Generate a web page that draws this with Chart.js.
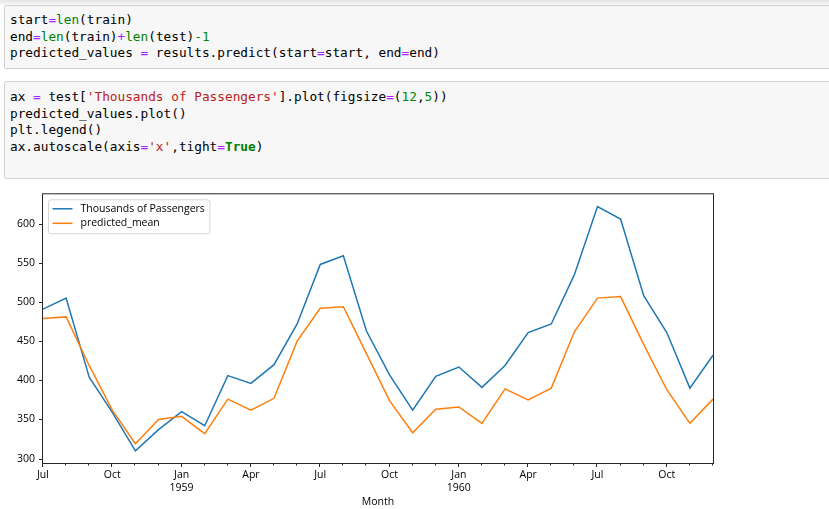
<!DOCTYPE html>
<html>
<head>
<meta charset="utf-8">
<script src="https://cdn.jsdelivr.net/npm/chart.js@4.4.1/dist/chart.umd.min.js"></script>
<style>
  html, body { margin: 0; padding: 0; background: #fff; width: 829px; height: 509px; overflow: hidden; position: relative; }
  .shade { position: absolute; left: 0; top: 0; width: 829px; height: 5px; background: linear-gradient(#e4e4e4, #f9f9f9); }
  .cell { position: absolute; left: 4px; width: 840px; box-sizing: border-box; background: #f7f7f7; border: 1px solid #cfcfcf; border-radius: 2px;
          font-family: "DejaVu Sans Mono", monospace; font-size: 12.75px; line-height: 16.6px; color: #000; white-space: pre; padding-left: 5px; }
  .o { color: #AA22FF; }
  .b { color: #008000; }
  .n { color: #008800; }
  .s { color: #BA2121; }
  .k { color: #008000; font-weight: bold; }
  #wrap { position: absolute; left: 0; top: 180px; width: 829px; height: 329px; }
</style>
</head>
<body>
<div class="shade"></div>
<div class="cell" style="top:5px;height:64px;padding-top:6px;">start<span class="o">=</span><span class="b">len</span>(train)
end<span class="o">=</span><span class="b">len</span>(train)<span class="o">+</span><span class="b">len</span>(test)<span class="n">-1</span>
predicted_values <span class="o">=</span> results.predict(start<span class="o">=</span>start, end<span class="o">=</span>end)</div>
<div class="cell" style="top:81px;height:98px;padding-top:7px;">ax <span class="o">=</span> test[<span class="s">'Thousands of Passengers'</span>].plot(figsize<span class="o">=</span>(<span class="n">12</span>,<span class="n">5</span>))
predicted_values.plot()
plt.legend()
ax.autoscale(axis<span class="o">=</span><span class="s">'x'</span>,tight<span class="o">=</span><span class="k">True</span>)</div>
<div id="wrap"><canvas id="passengerChart" width="829" height="329"></canvas></div>
<script>
'use strict'
var months = ['1958-07', '1958-08', '1958-09', '1958-10', '1958-11', '1958-12',
    '1959-01', '1959-02', '1959-03', '1959-04', '1959-05', '1959-06',
    '1959-07', '1959-08', '1959-09', '1959-10', '1959-11', '1959-12',
    '1960-01', '1960-02', '1960-03', '1960-04', '1960-05', '1960-06',
    '1960-07', '1960-08', '1960-09', '1960-10', '1960-11', '1960-12'];
var passengers = [491, 505, 404, 359, 310, 337, 360, 342, 406, 396, 420, 472,
    548, 559, 463, 407, 362, 405, 417, 391, 419, 461, 472, 535,
    622, 606, 508, 461, 390, 432];
var predictedMean = [479, 481, 419, 362, 319, 350, 354, 332, 376, 362, 377, 450,
    492, 494, 434, 374, 333, 363, 366, 345, 389, 375, 390, 462,
    505, 507, 446, 388, 345, 376];
var seriesNames = ['Thousands of Passengers', 'predicted_mean'];
var monthNames = ['Jan', 'Feb', 'Mar', 'Apr', 'May', 'Jun', 'Jul', 'Aug', 'Sep', 'Oct', 'Nov', 'Dec'];
var yTicks = [300, 350, 400, 450, 500, 550, 600];
var yMin = 294.4, yMax = 637.6;

var mplFont = { family: '"Open Sans", "DejaVu Sans", sans-serif', size: 10.5 };

/* matplotlib style frame, tick marks and legend box */
var mplFrame = {
    id: 'mplFrame',
    afterDatasetsDraw: function (chart) {
        var ctx = chart.ctx;
        var area = chart.chartArea;
        var xs = chart.scales.x, ys = chart.scales.y;
        ctx.save();
        ctx.strokeStyle = '#262626';
        ctx.lineWidth = 1;
        ctx.strokeRect(area.left - 0.5, area.top - 0.5, area.right - area.left + 1, area.bottom - area.top + 1);

        ctx.beginPath();
        months.forEach(function (m, i) {
            var px = Math.round(xs.getPixelForValue(i)) - 0.5;
            var major = (parseInt(m.split('-')[1], 10) - 1) % 3 === 0;
            ctx.moveTo(px, area.bottom);
            ctx.lineTo(px, area.bottom + (major ? 4 : 2.5));
        });
        ys.ticks.forEach(function (t) {
            var py = Math.round(ys.getPixelForValue(t.value)) + 0.5;
            ctx.moveTo(area.left - 4, py);
            ctx.lineTo(area.left, py);
        });
        ctx.stroke();

        // legend
        ctx.font = mplFont.size + 'px ' + mplFont.family;
        var tw = 0;
        chart.data.datasets.forEach(function (ds) {
            tw = Math.max(tw, ctx.measureText(ds.label).width);
        });
        var bx = area.left + 5.5, by = area.top + 5.5;
        var bw = 4 + 20 + 8 + tw + 5, bh = 34;
        ctx.beginPath();
        ctx.roundRect(bx, by, bw, bh, 2.5);
        ctx.fillStyle = 'rgba(255,255,255,0.8)';
        ctx.fill();
        ctx.strokeStyle = 'rgba(204,204,204,0.8)';
        ctx.stroke();
        chart.data.datasets.forEach(function (ds, i) {
            var cy = by + 9 + i * 14.5;
            ctx.beginPath();
            ctx.strokeStyle = ds.borderColor;
            ctx.lineWidth = 1.5;
            ctx.moveTo(bx + 4, cy);
            ctx.lineTo(bx + 24, cy);
            ctx.stroke();
            ctx.fillStyle = '#000';
            ctx.textBaseline = 'middle';
            ctx.fillText(ds.label, bx + 32, cy);
        });
        ctx.restore();
    }
};

var passengerCtx = document.getElementById('passengerChart').getContext('2d');
var passengerChart = new Chart(passengerCtx, {
    type: 'line',
    data: {
        labels: months,
        datasets: [{
            label: seriesNames[0],
            data: passengers,
            borderColor: '#1f77b4',
            borderWidth: 1.5,
            pointRadius: 0,
            tension: 0,
            fill: false,
            order: 1
        }, {
            label: seriesNames[1],
            data: predictedMean,
            borderColor: '#ff7f0e',
            borderWidth: 1.5,
            pointRadius: 0,
            tension: 0,
            fill: false,
            order: 0
        }]
    },
    options: {
        responsive: false,
        animation: false,
        layout: { padding: { left: 0, right: 116, top: 11, bottom: 0 } },
        plugins: {
            legend: { display: false },
            tooltip: { enabled: false }
        },
        scales: {
            x: {
                type: 'category',
                offset: false,
                grid: { display: false, drawTicks: false },
                border: { display: false },
                ticks: {
                    autoSkip: false,
                    maxRotation: 0,
                    padding: 6,
                    color: '#000',
                    font: mplFont,
                    callback: function (value, index) {
                        var parts = months[index].split('-');
                        var m = parseInt(parts[1], 10);
                        if ((m - 1) % 3 !== 0) return '';
                        if (m === 1) return [monthNames[m - 1], parts[0]];
                        return monthNames[m - 1];
                    }
                },
                title: { display: true, text: 'Month', color: '#000', font: mplFont, padding: { top: 4, bottom: 1 } },
                afterFit: function (scale) { scale.height = 46; }
            },
            y: {
                min: yMin,
                max: yMax,
                grid: { display: false, drawTicks: false },
                border: { display: false },
                afterBuildTicks: function (scale) {
                    scale.ticks = yTicks.map(function (v) { return { value: v }; });
                },
                ticks: { padding: 8, color: '#000', font: mplFont },
                afterFit: function (scale) { scale.width = 43; }
            }
        }
    },
    plugins: [mplFrame]
});
</script>
</body>
</html>
